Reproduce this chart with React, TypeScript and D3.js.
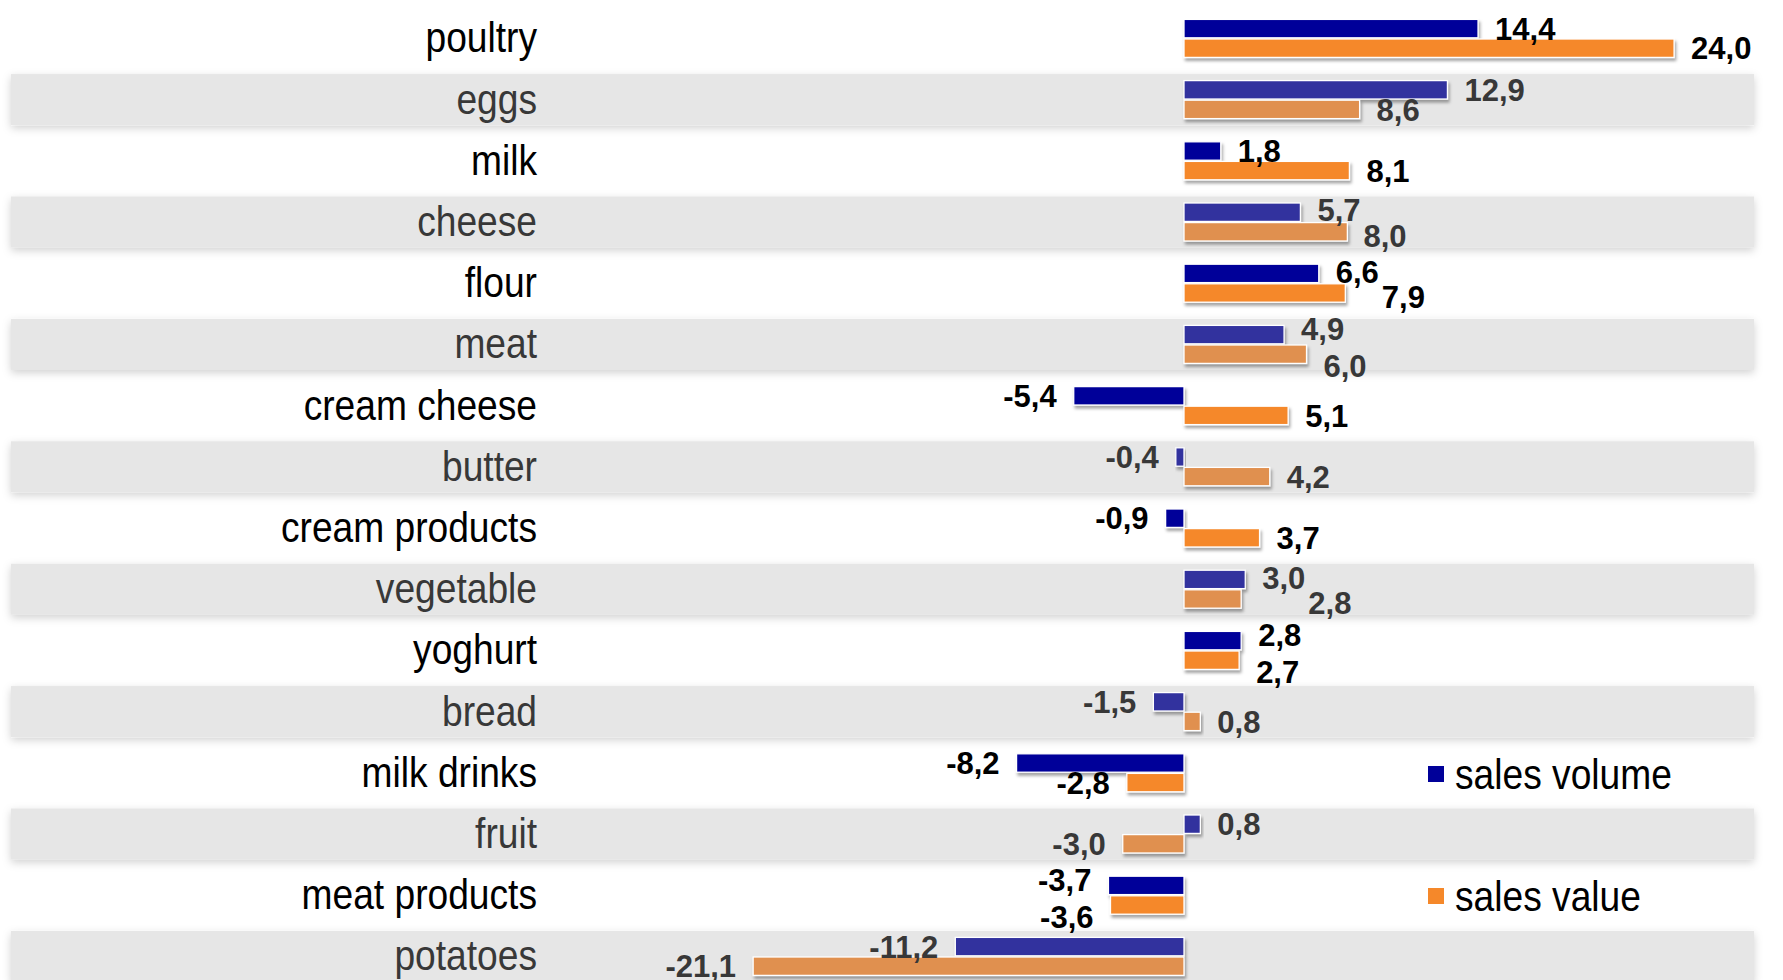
import React from "react";
import * as d3 from "d3";

const categories = [
  "poultry", "eggs", "milk", "cheese", "flour", "meat", "cream cheese", "butter",
  "cream products", "vegetable", "yoghurt", "bread", "milk drinks", "fruit",
  "meat products", "potatoes",
];
const salesVolume = [14.4, 12.9, 1.8, 5.7, 6.6, 4.9, -5.4, -0.4, -0.9, 3.0, 2.8, -1.5, -8.2, 0.8, -3.7, -11.2];
const salesValue = [24.0, 8.6, 8.1, 8.0, 7.9, 6.0, 5.1, 4.2, 3.7, 2.8, 2.7, 0.8, -2.8, -3.0, -3.6, -21.1];
const seriesNames = ["sales volume", "sales value"];
const seriesKeys = ["volume", "value"];

const W = 1783;
const H = 980;
const FONT = "'Liberation Sans', Arial, Helvetica, sans-serif";

const fmt = (v: number) => v.toFixed(1).replace(".", ",");

// approximate text width of a bold numeric label (Arial metrics)
const labelWidth = (s: string, size: number) => {
  let w = 0;
  for (const ch of s) w += ch === "," ? 0.278 : ch === "-" ? 0.333 : 0.556;
  return w * size;
};

type Box = { s: string; pos: boolean; x0: number; x1: number; cy: number };

export default function App() {
  const x = d3.scaleLinear().domain([-25, 25]).range([1184 - 25 * 20.42, 1184 + 25 * 20.42]);
  const y = d3
    .scaleBand<string>()
    .domain(categories)
    .range([7.8, 7.8 + categories.length * 61.2])
    .paddingInner(1 / 6)
    .paddingOuter(1 / 12);
  const sub = d3.scaleBand<string>().domain(seriesKeys).range([-19, 19]).paddingInner(0.06);

  const colors = {
    light: { volume: "#000099", value: "#F5882A", text: "#000000" },
    grey: { volume: "#30309E", value: "#E0904F", text: "#383838" },
  };

  const bandLeft = 11;
  const bandRight = 1754;
  const labelRight = 537;
  const catScale = 0.885;
  const catSize = 42;
  const valSize = 31;
  const gap = 17;
  const minSep = 35;

  const rowCenter = (i: number) => y(categories[i])! + y.bandwidth() / 2;

  const defaults = (i: number): Box[] =>
    [salesVolume[i], salesValue[i]].map((v, k) => {
      const s = fmt(v);
      const w = labelWidth(s, valSize);
      const pos = v >= 0;
      const lx = pos ? x(v) + gap : x(v) - gap;
      const cy = rowCenter(i) + sub(seriesKeys[k])! + sub.bandwidth() / 2;
      return { s, pos, x0: pos ? lx : lx - w, x1: pos ? lx + w : lx, cy };
    });
  const xOverlap = (a: Box, b: Box) => a.x0 < b.x1 + 4 && b.x0 < a.x1 + 4;
  const clash = (a: Box, b: Box) => xOverlap(a, b) && Math.abs(a.cy - b.cy) < minSep;
  const shiftY = (b: Box, dy: number): Box => ({ ...b, cy: b.cy + dy });

  // simple label placement: separate colliding label pairs vertically,
  // or push the value label sideways when that would hit a neighbouring row
  const placed: Box[][] = [];
  categories.forEach((_, i) => {
    const d = defaults(i);
    if (!xOverlap(d[0], d[1])) {
      placed.push(d);
      return;
    }
    const A = [shiftY(d[0], -6), shiftY(d[1], 12)];
    const neighbours = [...(i > 0 ? placed[i - 1] : []), ...(i + 1 < categories.length ? defaults(i + 1) : [])];
    if (!A.some((a) => neighbours.some((n) => clash(a, n)))) {
      placed.push(A);
      return;
    }
    const blue = shiftY(d[0], -2);
    const w = d[1].x1 - d[1].x0;
    const orange = d[1].pos
      ? { ...d[1], x0: blue.x1 + 3, x1: blue.x1 + 3 + w, cy: d[1].cy + 4 }
      : { ...d[1], x1: blue.x0 - 3, x0: blue.x0 - 3 - w, cy: d[1].cy + 4 };
    placed.push([blue, orange]);
  });

  return (
    <svg
      width={W}
      height={H}
      style={{ position: "absolute", left: 0, top: 0, background: "#fff" }}
      fontFamily={FONT}
    >
      <defs>
        <filter id="bandShadow" x="-5%" y="-40%" width="110%" height="180%">
          <feDropShadow dx="0" dy="3" stdDeviation="4" floodColor="#000" floodOpacity="0.18" />
        </filter>
        <filter id="barShadow" x="-10%" y="-40%" width="130%" height="200%">
          <feDropShadow dx="1.5" dy="3" stdDeviation="1.8" floodColor="#000" floodOpacity="0.35" />
        </filter>
      </defs>
      <rect x={0} y={0} width={W} height={H} fill="#fff" />
      {categories.map((c, i) =>
        i % 2 === 1 ? (
          <rect
            key={"band" + c}
            x={bandLeft}
            y={y(c)!}
            width={bandRight - bandLeft}
            height={y.bandwidth()}
            fill="#E6E6E6"
            filter="url(#bandShadow)"
          />
        ) : null
      )}
      {categories.map((c, i) => {
        const pal = i % 2 === 1 ? colors.grey : colors.light;
        return (
          <text
            key={"cat" + c}
            transform={`translate(${labelRight},${rowCenter(i) + 14}) scale(${catScale},1)`}
            textAnchor="end"
            fontSize={catSize}
            fill={pal.text}
          >
            {c}
          </text>
        );
      })}
      {categories.map((c, i) => {
        const cy = rowCenter(i);
        const pal = i % 2 === 1 ? colors.grey : colors.light;
        const items = [
          { key: "volume", v: salesVolume[i], color: pal.volume },
          { key: "value", v: salesValue[i], color: pal.value },
        ];
        return (
          <g key={"bars" + c}>
            {items.map((it) => {
              const x0 = Math.min(x(0), x(it.v));
              const w = Math.abs(x(it.v) - x(0));
              return (
                <rect
                  key={it.key}
                  x={x0}
                  y={cy + sub(it.key)!}
                  width={w}
                  height={sub.bandwidth()}
                  fill={it.color}
                  stroke="#fff"
                  strokeWidth={1.3}
                  filter="url(#barShadow)"
                />
              );
            })}
            {placed[i].map((b, k) => (
              <text
                key={"l" + k}
                x={b.pos ? b.x0 : b.x1}
                y={b.cy + valSize * 0.36}
                textAnchor={b.pos ? "start" : "end"}
                fontSize={valSize}
                fontWeight="bold"
                fill={pal.text}
              >
                {b.s}
              </text>
            ))}
          </g>
        );
      })}
      {seriesNames.map((s, k) => {
        const ly = k === 0 ? 774 : 896;
        return (
          <g key={"leg" + s}>
            <rect x={1428} y={ly - 8} width={16} height={16} fill={k === 0 ? colors.light.volume : colors.light.value} />
            <text
              transform={`translate(1455,${ly + 15}) scale(${catScale},1)`}
              fontSize={catSize}
              fill="#000"
            >
              {s}
            </text>
          </g>
        );
      })}
    </svg>
  );
}
